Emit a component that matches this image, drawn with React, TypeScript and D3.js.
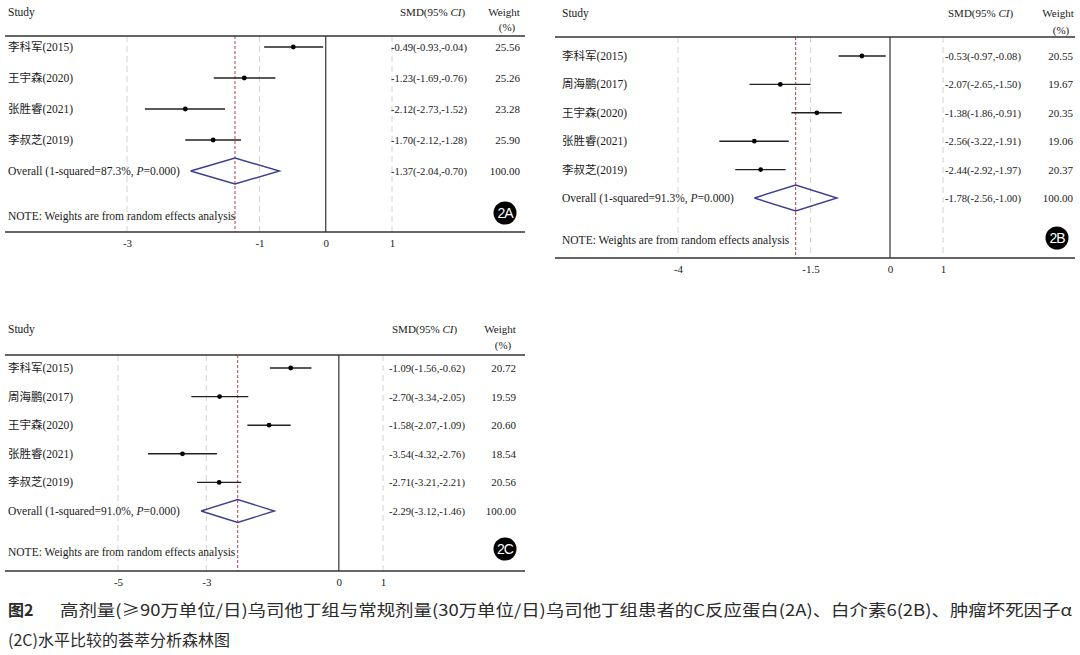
import React, { useEffect, useRef } from "react";
import * as d3 from "d3";

// 2A: C反应蛋白
const studiesA = ["李科军(2015)", "王宇森(2020)", "张胜睿(2021)", "李叔芝(2019)"];
const smdA = [-0.49, -1.23, -2.12, -1.7];
const lowA = [-0.93, -1.69, -2.73, -2.12];
const highA = [-0.04, -0.76, -1.52, -1.28];
const weightA = [25.56, 25.26, 23.28, 25.9];
const overallA = [-1.37, -2.04, -0.7];
const i2A = "87.3%";
const ticksA = [-3, -1, 0, 1];

// 2B: 白介素6
const studiesB = ["李科军(2015)", "周海鹏(2017)", "王宇森(2020)", "张胜睿(2021)", "李叔芝(2019)"];
const smdB = [-0.53, -2.07, -1.38, -2.56, -2.44];
const lowB = [-0.97, -2.65, -1.86, -3.22, -2.92];
const highB = [-0.08, -1.5, -0.91, -1.91, -1.97];
const weightB = [20.55, 19.67, 20.35, 19.06, 20.37];
const overallB = [-1.78, -2.56, -1.0];
const i2B = "91.3%";
const ticksB = [-4, -1.5, 0, 1];

// 2C: 肿瘤坏死因子α
const studiesC = ["李科军(2015)", "周海鹏(2017)", "王宇森(2020)", "张胜睿(2021)", "李叔芝(2019)"];
const smdC = [-1.09, -2.7, -1.58, -3.54, -2.71];
const lowC = [-1.56, -3.34, -2.07, -4.32, -3.21];
const highC = [-0.62, -2.05, -1.09, -2.76, -2.21];
const weightC = [20.72, 19.59, 20.6, 18.54, 20.56];
const overallC = [-2.29, -3.12, -1.46];
const i2C = "91.0%";
const ticksC = [-5, -3, 0, 1];

const overallWeight = 100;

const captionBold = "图2";
const captionLine1 =
  "高剂量(≥90万单位/日)乌司他丁组与常规剂量(30万单位/日)乌司他丁组患者的C反应蛋白(2A)、白介素6(2B)、肿瘤坏死因子α";
const captionLine2 = "(2C)水平比较的荟萃分析森林图";

const SERIF = "'Liberation Serif', 'Times New Roman', 'Noto Sans CJK SC', serif";
const CJK = "'Noto Sans CJK SC', sans-serif";

const panels = [
  {
    tag: "2A", studies: studiesA, smd: smdA, low: lowA, high: highA, weight: weightA,
    overall: overallA, i2: i2A, ticks: ticksA,
    left: 5, right: 525, titleY: 16, pctY: 31, headerY: 36, firstRow: 47, overallRow: 171,
    noteY: 216, axisY: 232, dom: [-3, 1], rng: [127, 392], studyX: 8, smdX: 391,
    smdHeadX: 400, weightX: 520, weightHeadX: 504, badge: [505, 213], diamondH: 13,
  },
  {
    tag: "2B", studies: studiesB, smd: smdB, low: lowB, high: highB, weight: weightB,
    overall: overallB, i2: i2B, ticks: ticksB,
    left: 555, right: 1075, titleY: 17, pctY: 34, headerY: 37, firstRow: 56, overallRow: 198,
    noteY: 240, axisY: 258, dom: [-4, 1], rng: [678, 943], studyX: 562, smdX: 945,
    smdHeadX: 948, weightX: 1073, weightHeadX: 1058, badge: [1057, 238], diamondH: 13,
  },
  {
    tag: "2C", studies: studiesC, smd: smdC, low: lowC, high: highC, weight: weightC,
    overall: overallC, i2: i2C, ticks: ticksC,
    left: 5, right: 525, titleY: 333, pctY: 349, headerY: 355, firstRow: 368, overallRow: 511,
    noteY: 552, axisY: 571, dom: [-5, 1], rng: [118, 383], studyX: 8, smdX: 389,
    smdHeadX: 392, weightX: 516, weightHeadX: 500, badge: [505, 549], diamondH: 11.5,
  },
];

// plain hyphen for negatives, as Stata prints them
const f2 = (v: number) => v.toFixed(2);

function drawPanel(svg: any, p: any) {
  const g = svg.append("g").attr("font-family", SERIF).attr("fill", "#1a1a1a");
  const x = d3.scaleLinear().domain(p.dom).range(p.rng);
  const rows = [...p.studies, "Overall"];
  const y = d3.scalePoint().domain(rows).range([p.firstRow, p.overallRow]);

  // headers
  g.append("text").attr("x", p.studyX).attr("y", p.titleY).attr("font-size", 11.5).text("Study");
  const smdHead = g.append("text").attr("x", p.smdHeadX).attr("y", p.titleY).attr("font-size", 11);
  smdHead.append("tspan").text("SMD(95% ");
  smdHead.append("tspan").attr("font-style", "italic").text("CI");
  smdHead.append("tspan").text(")");
  g.append("text").attr("x", p.weightHeadX).attr("y", p.titleY).attr("font-size", 11)
    .attr("text-anchor", "middle").text("Weight");
  g.append("text").attr("x", p.weightHeadX + 3).attr("y", p.pctY).attr("font-size", 11)
    .attr("text-anchor", "middle").text("(%)");

  // reference lines
  const refs = p.ticks.filter((t: number) => t !== 0);
  g.selectAll(".ref").data(refs).join("line").attr("class", "ref")
    .attr("x1", (d: number) => x(d)).attr("x2", (d: number) => x(d))
    .attr("y1", p.headerY).attr("y2", p.axisY)
    .attr("stroke", "#d4d4d4").attr("stroke-width", 1).attr("stroke-dasharray", "6,4");
  g.append("line").attr("x1", x(0)).attr("x2", x(0)).attr("y1", p.headerY).attr("y2", p.axisY)
    .attr("stroke", "#333").attr("stroke-width", 1.2);
  g.append("line").attr("x1", x(p.overall[0])).attr("x2", x(p.overall[0]))
    .attr("y1", p.headerY).attr("y2", p.axisY)
    .attr("stroke", "#b5404a").attr("stroke-width", 1).attr("stroke-dasharray", "3,2");

  // header and axis rules
  g.append("line").attr("x1", p.left).attr("x2", p.right).attr("y1", p.headerY).attr("y2", p.headerY)
    .attr("stroke", "#333").attr("stroke-width", 1.5);
  g.append("line").attr("x1", p.left).attr("x2", p.right).attr("y1", p.axisY).attr("y2", p.axisY)
    .attr("stroke", "#333").attr("stroke-width", 1.3);

  const axis = g.append("g").attr("transform", `translate(0,${p.axisY})`)
    .call(d3.axisBottom(x).tickValues(p.ticks).tickSize(0).tickPadding(7).tickFormat((d: any) => String(d)));
  axis.select(".domain").remove();
  axis.selectAll("text").attr("font-family", SERIF).attr("font-size", 11).attr("fill", "#1a1a1a");

  // study rows
  const idx = d3.range(p.studies.length);
  g.selectAll(".ci").data(idx).join("line").attr("class", "ci")
    .attr("x1", (i: number) => x(p.low[i])).attr("x2", (i: number) => x(p.high[i]))
    .attr("y1", (i: number) => y(p.studies[i])).attr("y2", (i: number) => y(p.studies[i]))
    .attr("stroke", "#222").attr("stroke-width", 1.4);
  g.selectAll(".pt").data(idx).join("circle").attr("class", "pt")
    .attr("cx", (i: number) => x(p.smd[i])).attr("cy", (i: number) => y(p.studies[i]))
    .attr("r", 2.4).attr("fill", "#000");

  g.selectAll(".name").data(idx).join("text").attr("class", "name")
    .attr("x", p.studyX).attr("y", (i: number) => y(p.studies[i])! + 4)
    .attr("font-size", 11.5).text((i: number) => p.studies[i]);
  g.selectAll(".smd").data(idx).join("text").attr("class", "smd")
    .attr("x", p.smdX).attr("y", (i: number) => y(p.studies[i])! + 4).attr("font-size", 10.6)
    .text((i: number) => `${f2(p.smd[i])}(${f2(p.low[i])},${f2(p.high[i])})`);
  g.selectAll(".wt").data(idx).join("text").attr("class", "wt")
    .attr("x", p.weightX).attr("y", (i: number) => y(p.studies[i])! + 4).attr("font-size", 11)
    .attr("text-anchor", "end").text((i: number) => f2(p.weight[i]));

  // pooled estimate
  const oy = y("Overall")!;
  const [est, lo, hi] = p.overall;
  const diamond = d3.line()([
    [x(lo), oy], [x(est), oy - p.diamondH], [x(hi), oy], [x(est), oy + p.diamondH], [x(lo), oy],
  ]);
  g.append("path").attr("d", diamond).attr("fill", "none").attr("stroke", "#3b3f8c").attr("stroke-width", 1.4);
  const ov = g.append("text").attr("x", p.studyX).attr("y", oy + 4).attr("font-size", 11.5);
  ov.append("tspan").text(`Overall (1-squared=${p.i2}, `);
  ov.append("tspan").attr("font-style", "italic").text("P");
  ov.append("tspan").text("=0.000)");
  g.append("text").attr("x", p.smdX).attr("y", oy + 4).attr("font-size", 10.6)
    .text(`${f2(est)}(${f2(lo)},${f2(hi)})`);
  g.append("text").attr("x", p.weightX).attr("y", oy + 4).attr("font-size", 11)
    .attr("text-anchor", "end").text(f2(overallWeight));

  g.append("text").attr("x", p.studyX).attr("y", p.noteY + 4).attr("font-size", 11.5)
    .text("NOTE: Weights are from random effects analysis");

  // panel badge
  g.append("circle").attr("cx", p.badge[0]).attr("cy", p.badge[1]).attr("r", 11.5).attr("fill", "#000");
  g.append("text").attr("x", p.badge[0]).attr("y", p.badge[1] + 5).attr("text-anchor", "middle")
    .attr("font-family", "'Liberation Sans', Arial, sans-serif").attr("font-size", 14)
    .attr("letter-spacing", -1).attr("fill", "#fff").text(p.tag);
}

export default function App() {
  const ref = useRef<SVGSVGElement>(null);

  useEffect(() => {
    const svg = d3.select(ref.current);
    svg.selectAll("*").remove();
    svg.append("rect").attr("width", 1080).attr("height", 655).attr("fill", "#fff");
    panels.forEach((p) => drawPanel(svg, p));

    // figure caption
    const cap = svg.append("g").attr("font-family", CJK).attr("fill", "#2b2b2b");
    cap.append("text").attr("x", 8).attr("y", 616).attr("font-size", 16).attr("font-weight", "bold")
      .text(captionBold);
    cap.append("text").attr("x", 60).attr("y", 616).attr("font-size", 16)
      .attr("textLength", 1012).attr("lengthAdjust", "spacingAndGlyphs").text(captionLine1);
    cap.append("text").attr("x", 8).attr("y", 646).attr("font-size", 16).text(captionLine2);
  }, []);

  return (
    <svg ref={ref} width={1080} height={655} style={{ position: "absolute", left: 0, top: 0 }} />
  );
}
